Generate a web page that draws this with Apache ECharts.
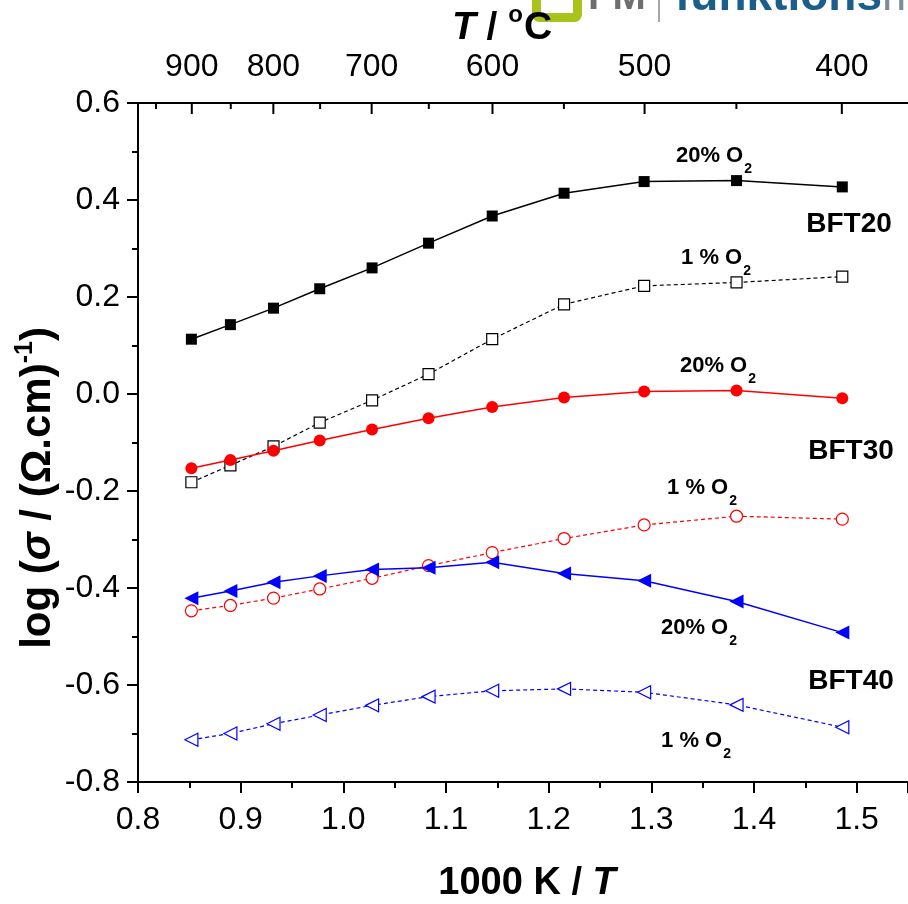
<!DOCTYPE html>
<html>
<head>
<meta charset="utf-8">
<script src="https://cdn.jsdelivr.net/npm/echarts@6/dist/echarts.min.js"></script>
<style>
  html, body { margin: 0; padding: 0; background: #fff; }
  #chart { width: 908px; height: 904px; }
</style>
</head>
<body>
<div id="chart"></div>
<script>
// 1000 K / T at 900, 850, ... 400 °C
var invT = [0.852, 0.890, 0.932, 0.977, 1.028, 1.083, 1.145, 1.215, 1.293, 1.383, 1.486];

// log sigma values
var bft20_20 = [0.113, 0.143, 0.177, 0.217, 0.260, 0.311, 0.367, 0.414, 0.438, 0.440, 0.427];
var bft20_1  = [-0.182, -0.147, -0.108, -0.059, -0.013, 0.041, 0.113, 0.185, 0.223, 0.230, 0.242];
var bft30_20 = [-0.153, -0.136, -0.117, -0.096, -0.073, -0.050, -0.027, -0.007, 0.005, 0.007, -0.009];
var bft30_1  = [-0.447, -0.436, -0.421, -0.402, -0.380, -0.354, -0.327, -0.298, -0.270, -0.252, -0.258];
var bft40_20 = [-0.421, -0.406, -0.388, -0.375, -0.362, -0.358, -0.347, -0.370, -0.385, -0.428, -0.492];
var bft40_1  = [-0.713, -0.700, -0.680, -0.662, -0.642, -0.624, -0.612, -0.608, -0.615, -0.641, -0.687];

// top axis (temperature in °C)
var topTemps = [950, 900, 850, 800, 750, 700, 650, 600, 550, 500, 450, 400];

var FONT = '"Liberation Sans", Arial, sans-serif';

function pairs(ys) {
    return invT.map(function (x, i) { return [x, ys[i]]; });
}

function lineSeries(name, ys, color, symbol, filled, dashed, size, rotate) {
    return {
        name: name,
        type: 'line',
        data: pairs(ys),
        symbol: symbol,
        symbolSize: size,
        symbolRotate: rotate || 0,
        showAllSymbol: true,
        lineStyle: { color: color, width: dashed ? 1.2 : 1.5, type: dashed ? [4, 3] : 'solid' },
        itemStyle: {
            color: filled ? color : '#fff',
            borderColor: color,
            borderWidth: filled ? 0 : 1.2
        },
        emphasis: { disabled: true },
        z: filled ? 3 : 2
    };
}

function o2Label(x, y, main) {
    return {
        type: 'text',
        x: x, y: y,
        style: {
            text: '{a|' + main + '}{s|2}',
            align: 'center',
            verticalAlign: 'middle',
            rich: {
                a: { fontSize: 22, fontWeight: 'bold', fontFamily: FONT, fill: '#000' },
                s: { fontSize: 14, fontWeight: 'bold', fontFamily: FONT, fill: '#000', padding: [26, 0, 0, 1] }
            }
        }
    };
}

function boldLabel(x, y, txt) {
    return {
        type: 'text', x: x, y: y,
        style: { text: txt, align: 'center', verticalAlign: 'middle', fontSize: 28, fontWeight: 'bold', fontFamily: FONT, fill: '#000' }
    };
}

var myChart = echarts.init(document.getElementById('chart'));

var option = {
    animation: false,
    backgroundColor: '#fff',
    grid: { left: 138, top: 103, right: -3, bottom: 122 },
    xAxis: [{
        type: 'value',
        min: 0.8, max: 1.55, interval: 0.1,
        axisLine: { show: true, onZero: false, lineStyle: { color: '#000', width: 2 } },
        axisTick: { show: true, inside: false, length: 11, lineStyle: { color: '#000', width: 2 } },
        minorTick: { show: true, splitNumber: 2, length: 6, lineStyle: { color: '#000', width: 2 } },
        splitLine: { show: false },
        axisLabel: {
            color: '#000', fontSize: 32, fontFamily: FONT, margin: 22,
            showMaxLabel: false,
            formatter: function (v) { return v.toFixed(1); }
        }
    }, {
        type: 'value', position: 'top',
        min: 0.8, max: 1.55,
        axisLine: { show: true, onZero: false, lineStyle: { color: '#000', width: 2 } },
        axisTick: { show: false }, axisLabel: { show: false }, splitLine: { show: false }
    }],
    yAxis: {
        type: 'value',
        min: -0.8, max: 0.6, interval: 0.2,
        axisLine: { show: true, onZero: false, lineStyle: { color: '#000', width: 2 } },
        axisTick: { show: true, inside: false, length: 11, lineStyle: { color: '#000', width: 2 } },
        minorTick: { show: true, splitNumber: 2, length: 6, lineStyle: { color: '#000', width: 2 } },
        splitLine: { show: false },
        axisLabel: {
            color: '#000', fontSize: 32, fontFamily: FONT, margin: 18,
            formatter: function (v) { return v.toFixed(1); }
        }
    },
    series: [
        lineSeries('BFT20 1%', bft20_1, '#000', 'rect', false, true, 11),
        lineSeries('BFT30 1%', bft30_1, '#ff0000', 'circle', false, true, 12),
        lineSeries('BFT40 1%', bft40_1, '#0000ff', 'triangle', false, true, 13, 90),
        lineSeries('BFT20 20%', bft20_20, '#000', 'rect', true, false, 11),
        lineSeries('BFT30 20%', bft30_20, '#ff0000', 'circle', true, false, 12),
        lineSeries('BFT40 20%', bft40_20, '#0000ff', 'triangle', true, false, 14, 90),
        {
            // temperature ticks on the top axis
            type: 'custom',
            clip: false,
            silent: true,
            data: topTemps.map(function (t) { return [1000 / (t + 273.15), 0.6, t]; }),
            encode: { x: 0, y: 1 },
            renderItem: function (params, api) {
                var t = api.value(2);
                var p = api.coord([api.value(0), api.value(1)]);
                var major = t % 100 === 0;
                var kids = [{
                    type: 'line',
                    shape: { x1: p[0], y1: p[1], x2: p[0], y2: p[1] + (major ? 11 : 6) },
                    style: { stroke: '#000', lineWidth: 2 }
                }];
                if (major) {
                    kids.push({
                        type: 'text',
                        style: {
                            x: p[0], y: p[1] - 20, text: String(t),
                            align: 'center', verticalAlign: 'bottom',
                            fontSize: 32, fontFamily: FONT, fill: '#000'
                        }
                    });
                }
                return { type: 'group', children: kids };
            },
            z: 5
        }
    ],
    graphic: [
        // logo fragment at the top edge
        {
            type: 'rect', shape: { x: 536.5, y: -30, width: 41, height: 47.5, r: 3 },
            style: { fill: 'none', stroke: '#a9c21c', lineWidth: 9 }
        },
        {
            type: 'text', x: 588, y: -2,
            style: { text: 'FM', fontSize: 40, fontWeight: 'bold', fontFamily: FONT, fill: '#6d6e70', verticalAlign: 'middle' }
        },
        {
            type: 'line', shape: { x1: 659, y1: 0, x2: 659, y2: 22 },
            style: { stroke: '#8a8a8a', lineWidth: 1.5 }
        },
        {
            type: 'text', x: 675, y: -3,
            style: {
                text: '{f|funktions}{m|ma}', verticalAlign: 'middle',
                rich: {
                    f: { fontSize: 46, fontWeight: 'bold', fontFamily: FONT, fill: '#1b5e8c' },
                    m: { fontSize: 46, fontFamily: FONT, fill: '#7d8b98' }
                }
            }
        },
        // axis titles
        {
            type: 'text', x: 502, y: 28,
            style: {
                text: '{i|T}{b| / }{d|o}{b|C}', align: 'center', verticalAlign: 'middle',
                rich: {
                    i: { fontSize: 39, fontWeight: 'bold', fontStyle: 'italic', fontFamily: FONT, fill: '#000' },
                    b: { fontSize: 39, fontWeight: 'bold', fontFamily: FONT, fill: '#000' },
                    d: { fontSize: 24, fontWeight: 'bold', fontFamily: FONT, fill: '#000', padding: [0, 1, 26, 0] }
                }
            }
        },
        {
            type: 'text', x: 527, y: 884,
            style: {
                text: '{b|1000 K / }{i|T}', align: 'center', verticalAlign: 'middle',
                rich: {
                    b: { fontSize: 38, fontWeight: 'bold', fontFamily: FONT, fill: '#000' },
                    i: { fontSize: 38, fontWeight: 'bold', fontStyle: 'italic', fontFamily: FONT, fill: '#000' }
                }
            }
        },
        {
            type: 'text', x: 38, y: 488, rotation: Math.PI / 2,
            style: {
                text: '{b|log (}{i|σ}{b| / (Ω.cm)}{s|-1}{b|)}', align: 'center', verticalAlign: 'middle',
                rich: {
                    b: { fontSize: 42, fontWeight: 'bold', fontFamily: FONT, fill: '#000' },
                    i: { fontSize: 42, fontWeight: 'bold', fontStyle: 'italic', fontFamily: FONT, fill: '#000' },
                    s: { fontSize: 25, fontWeight: 'bold', fontFamily: FONT, fill: '#000', padding: [0, 0, 26, 0] }
                }
            }
        },
        // series annotations
        o2Label(714, 156, '20% O'),
        boldLabel(849, 224, 'BFT20'),
        o2Label(716, 258, '1 % O'),
        o2Label(718, 366, '20% O'),
        boldLabel(851, 451, 'BFT30'),
        o2Label(702, 488, '1 % O'),
        o2Label(699, 628, '20% O'),
        boldLabel(851, 681, 'BFT40'),
        o2Label(696, 741, '1 % O')
    ]
};

myChart.setOption(option);
</script>
</body>
</html>
